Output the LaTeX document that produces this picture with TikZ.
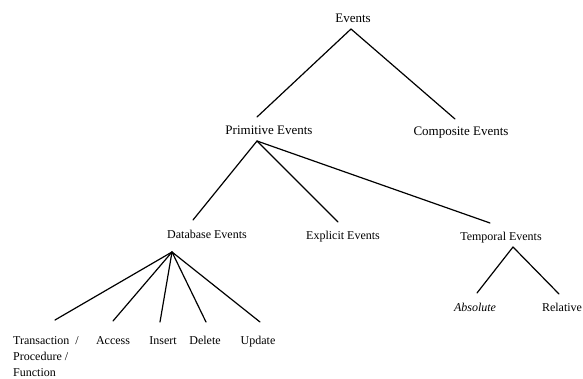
\documentclass[tikz,border=0pt]{standalone}
\usepackage{fontspec}
\setmainfont{Liberation Serif}
\begin{document}
\begin{tikzpicture}[x=1pt,y=-1pt,
  every node/.style={inner sep=0pt,text depth=0pt,text height=0.7em},
  upper/.style={font=\fontsize{13}{15}\selectfont},
  lower/.style={font=\fontsize{12}{16}\selectfont},
  branch/.style={line width=1.2pt,line cap=round}]
\useasboundingbox (0,0) rectangle (583,379);

% top levels
\node[upper] (ev) at (353,19)  {Events};
\node[upper] (pe) at (269,131) {Primitive Events};
\node[upper] (ce) at (461,132) {Composite Events};

% primitive event kinds
\node[lower] (db) at (207,235) {Database Events};
\node[lower] (ex) at (343,236) {Explicit Events};
\node[lower] (te) at (501,237) {Temporal Events};

% database event kinds
\node[lower,anchor=north west,align=left,text height=,text depth=] (tr) at (13,336)
  {Transaction \ /\\Procedure /\\Function};
\node[lower] (ac) at (113,341) {Access};
\node[lower] (in) at (163,341) {Insert};
\node[lower] (de) at (205,341) {Delete};
\node[lower] (up) at (258,341) {Update};

% temporal event kinds
\node[lower] (ab) at (475,308) {\itshape Absolute};
\node[lower] (re) at (562,308) {Relative};

% branches
\draw[branch] ([shift={(-2,10)}]ev.center) -- ([shift={(-12,-14)}]pe.center);
\draw[branch] ([shift={(-2,10)}]ev.center) -- ([shift={(-6,-13)}]ce.center);

\draw[branch] ([shift={(-12,10)}]pe.center) -- ([shift={(-14,-15)}]db.center);
\draw[branch] ([shift={(-12,10)}]pe.center) -- ([shift={(-5,-14)}]ex.center);
\draw[branch] ([shift={(-12,10)}]pe.center) -- ([shift={(-11,-14)}]te.center);

\draw[branch] ([shift={(-35,17)}]db.center) -- ([shift={(42,-16)}]tr.north west);
\draw[branch] ([shift={(-35,17)}]db.center) -- ([shift={(0,-20)}]ac.center);
\draw[branch] ([shift={(-35,17)}]db.center) -- ([shift={(-3,-19)}]in.center);
\draw[branch] ([shift={(-35,17)}]db.center) -- ([shift={(1,-19)}]de.center);
\draw[branch] ([shift={(-35,17)}]db.center) -- ([shift={(2,-19)}]up.center);

\draw[branch] ([shift={(12,10)}]te.center) -- ([shift={(2,-15)}]ab.center);
\draw[branch] ([shift={(12,10)}]te.center) -- ([shift={(-3,-14)}]re.center);
\end{tikzpicture}
\end{document}
